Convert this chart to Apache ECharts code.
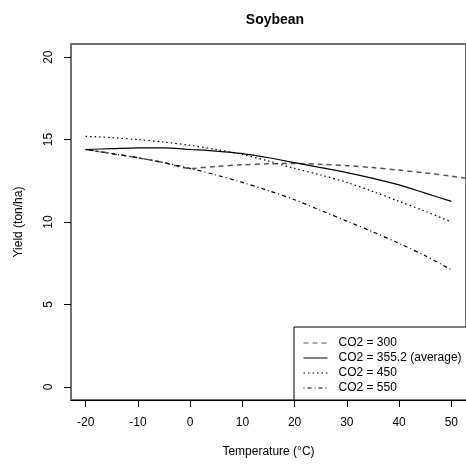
<!DOCTYPE html>
<html><head><meta charset="utf-8">
<script src="https://cdn.jsdelivr.net/npm/echarts@6/dist/echarts.min.js"></script>
<style>html,body{margin:0;padding:0;background:#fff}#c{width:466px;height:465px}</style>
</head><body><div id="c"></div>
<script>
const temps = [-20,-15,-10,-5,0,5,10,15,20,25,30,35,40,45,50];
const temps300 = [-20,-15,-10,-5,0,5,10,15,20,25,30,35,40,45,50,55];
const co2_300 = [14.4,14.15,13.9,13.6,13.25,13.37,13.47,13.53,13.55,13.5,13.42,13.3,13.15,12.98,12.78,12.55];
const co2_355 = [14.4,14.45,14.5,14.5,14.4,14.3,14.15,13.9,13.6,13.3,13.0,12.65,12.25,11.75,11.25];
const co2_450 = [15.2,15.12,15.0,14.85,14.65,14.4,14.1,13.7,13.25,12.85,12.4,11.85,11.25,10.65,10.0];
const co2_550 = [14.4,14.15,13.9,13.6,13.25,12.85,12.4,11.9,11.35,10.7,10.05,9.4,8.7,7.95,7.1];
const xTicks = [-20,-10,0,10,20,30,40,50];
const yTicks = [0,5,10,15,20];
const seriesNames = ['CO2 = 300','CO2 = 355.2 (average)','CO2 = 450','CO2 = 550'];
const titleText = 'Soybean';
const xName = 'Temperature (°C)';
const yName = 'Yield (ton/ha)';

const pair = (xs, ys) => xs.map((x,i)=>[x, ys[i]]);
const FONT = 'Liberation Sans, Arial, sans-serif';
const chart = echarts.init(document.getElementById('c'), null, {renderer:'canvas'});
chart.setOption({
  animation:false,
  backgroundColor:'#fff',
  title:{text:titleText,left:270,top:8,textAlign:'center',
    textStyle:{fontFamily:FONT,fontWeight:'bold',fontSize:14,color:'#000'}},
  grid:{left:71,top:44,width:399,height:356,show:true,borderColor:'#707070',borderWidth:2,backgroundColor:'transparent'},
  legend:{orient:'vertical',left:294,top:327,padding:[9,12,5,9],itemGap:1,itemWidth:24,itemHeight:14,
    borderColor:'#000',borderWidth:1,backgroundColor:'#fff',
    itemStyle:{opacity:0},
    lineStyle:{width:1},
    textStyle:{fontFamily:FONT,fontSize:12,color:'#000',padding:[0,0,0,6],height:14,lineHeight:14},
    data:seriesNames},
  xAxis:{type:'value',min:-22.8,max:52.8,
    name:xName,nameLocation:'middle',nameGap:46,
    nameTextStyle:{fontFamily:FONT,fontSize:12,color:'#000'},
    axisLine:{show:true,onZero:false,lineStyle:{color:'#000',width:1}},
    axisTick:{show:true,length:7,customValues:xTicks,lineStyle:{color:'#000'}},
    axisLabel:{customValues:xTicks,margin:17,fontFamily:FONT,fontSize:12,color:'#000'},
    splitLine:{show:false}},
  yAxis:{type:'value',min:-0.8,max:20.8,
    name:yName,nameLocation:'middle',nameGap:46,nameRotate:90,
    nameTextStyle:{fontFamily:FONT,fontSize:12,color:'#000'},
    axisLine:{show:false,onZero:false},
    axisTick:{show:true,length:7,customValues:yTicks,lineStyle:{color:'#000'}},
    axisLabel:{customValues:yTicks,rotate:90,margin:16,fontFamily:FONT,fontSize:12,color:'#000'},
    splitLine:{show:false}},
  series:[
    {name:seriesNames[0],type:'line',data:pair(temps300,co2_300),showSymbol:false,symbol:'none',smooth:0.3,clip:true,
      lineStyle:{color:'#555',width:1.5,type:[5,4]},itemStyle:{color:'#555'}},
    {name:seriesNames[1],type:'line',data:pair(temps,co2_355),showSymbol:false,symbol:'none',smooth:0.3,clip:true,
      lineStyle:{color:'#000',width:1.2,type:'solid'},itemStyle:{color:'#000'}},
    {name:seriesNames[2],type:'line',data:pair(temps,co2_450),showSymbol:false,symbol:'none',smooth:0.3,clip:true,
      lineStyle:{color:'#000',width:1.2,type:[1.5,3]},itemStyle:{color:'#000'}},
    {name:seriesNames[3],type:'line',data:pair(temps,co2_550),showSymbol:false,symbol:'none',smooth:0.3,clip:true,
      lineStyle:{color:'#000',width:1.2,type:[1,3,4,3]},itemStyle:{color:'#000'}}
  ]
});
</script></body></html>
